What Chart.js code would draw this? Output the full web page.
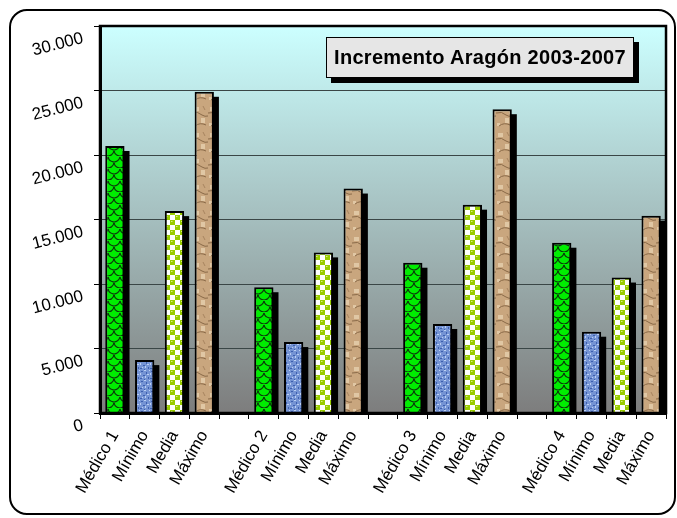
<!DOCTYPE html>
<html><head><meta charset="utf-8">
<script src="https://cdn.jsdelivr.net/npm/chart.js@4.4.1/dist/chart.umd.min.js"></script>
<style>
html,body{margin:0;padding:0;background:#fff;}
#wrap{position:relative;width:677px;height:518px;overflow:hidden;}
#frame{position:absolute;left:9px;top:9px;width:667px;height:506px;border:2px solid #000;border-radius:18px;box-sizing:border-box;pointer-events:none;}
#title{position:absolute;left:326px;top:37px;width:308px;height:41px;box-sizing:border-box;border:1px solid #000;background:#e6e6e6;box-shadow:5px 5px 0 #000;font:bold 20px Arial,'Liberation Sans',sans-serif;letter-spacing:0.3px;display:flex;align-items:center;justify-content:center;color:#000;}
canvas{position:absolute;left:0;top:0;}
</style></head>
<body><div id="wrap"><canvas id="c" width="677" height="518"></canvas><div id="frame"></div><div id="title">Incremento Aragón 2003-2007</div></div>
<script>
const groupLabels = ['Médico 1','Médico 2','Médico 3','Médico 4'];
const statLabels = ['Mínimo','Media','Máximo'];
const medico = [20700, 9750, 11650, 13200];
const minimo = [4100, 5500, 6900, 6300];
const media  = [15650, 12450, 16150, 10500];
const maximo = [24900, 17400, 23550, 15300];
const yTickLabels = ['0','5.000','10.000','15.000','20.000','25.000','30.000'];

const canvas = document.getElementById('c');
const mainCtx = canvas.getContext('2d');
function tile(w,h,draw){const c=document.createElement('canvas');c.width=w;c.height=h;draw(c.getContext('2d'));return mainCtx.createPattern(c,'repeat');}

const patMedico = tile(12,12,x=>{
  x.fillStyle='#00ee00';x.fillRect(0,0,12,12);
  x.strokeStyle='#0b3a0b';x.lineWidth=1.2;
  [[6,0],[0,6],[12,6],[6,12]].forEach(([cx,cy])=>{x.beginPath();x.arc(cx,cy,6,0.15,Math.PI-0.15);x.stroke();});
});
const patMinimo = tile(10,10,x=>{
  x.fillStyle='#7594d4';x.fillRect(0,0,10,10);
  x.fillStyle='#3d5fae';[[1,1,2,1],[6,2,1,2],[3,5,2,1],[8,7,1,2],[0,8,2,1],[4,9,1,1]].forEach(r=>x.fillRect(...r));
  x.fillStyle='#bcd0f3';[[4,0,2,1],[0,3,1,2],[7,4,2,1],[2,7,1,1],[5,6,1,2],[9,0,1,1]].forEach(r=>x.fillRect(...r));
});
const patMedia = tile(10,10,x=>{
  x.fillStyle='#99cc00';x.fillRect(0,0,10,10);
  x.fillStyle='#ffffff';x.fillRect(5,0,5,5);x.fillRect(0,5,5,5);
  x.fillStyle='#99cc00';
  [[2.5,2.5],[7.5,7.5]].forEach(([cx,cy])=>{x.beginPath();x.arc(cx,cy,2.3,0,Math.PI*2);x.fill();});
  x.fillStyle='#d6ee88';
  [[2,2],[7,7]].forEach(([cx,cy])=>{x.fillRect(cx-1,cy-1,1.5,1);});
});
const patMaximo = tile(16,26,x=>{
  x.fillStyle='#c9a67e';x.fillRect(0,0,16,26);
  x.fillStyle='#e0c7a4';x.fillRect(2,3,5,4);x.fillRect(9,14,4,5);x.fillRect(1,19,3,3);
  x.strokeStyle='#8a6a48';x.lineWidth=1;
  x.beginPath();x.moveTo(0,9);x.quadraticCurveTo(6,7,10,11);x.quadraticCurveTo(13,13,16,12);x.stroke();
  x.beginPath();x.moveTo(3,22);x.quadraticCurveTo(8,18,14,21);x.stroke();
  x.strokeStyle='#a88560';
  x.beginPath();x.moveTo(11,2);x.lineTo(13,6);x.stroke();
});

const labels = [], values = [], fills = [];
groupLabels.forEach((g,i)=>{
  labels.push(g, statLabels[0], statLabels[1], statLabels[2]);
  values.push(medico[i], minimo[i], media[i], maximo[i]);
  fills.push(patMedico, patMinimo, patMedia, patMaximo);
  if(i<groupLabels.length-1){labels.push('');values.push(null);fills.push('rgba(0,0,0,0)');}
});

const bgPlugin = {id:'bg', beforeDraw(chart){
  const {ctx, chartArea:a} = chart;
  const g = ctx.createLinearGradient(0,a.top,0,a.bottom);
  g.addColorStop(0,'#ccffff'); g.addColorStop(1,'#7d7d7d');
  ctx.save(); ctx.fillStyle=g; ctx.fillRect(a.left,a.top,a.right-a.left,a.bottom-a.top); ctx.restore();
}};
const shadowPlugin = {id:'shadow', beforeDatasetsDraw(chart){
  const {ctx, chartArea:a} = chart;
  ctx.save(); ctx.beginPath(); ctx.rect(a.left,a.top,a.right-a.left,a.bottom-a.top); ctx.clip();
  ctx.fillStyle='#000';
  chart.getDatasetMeta(0).data.forEach((el,i)=>{
    if(values[i]==null) return;
    const p = el.getProps(['x','y','base','width'],true);
    ctx.fillRect(p.x-p.width/2+5, p.y+5, p.width, p.base-p.y);
  });
  ctx.restore();
}};
const framePlugin = {id:'frame', afterDatasetsDraw(chart){
  const {ctx, chartArea:a} = chart;
  ctx.save(); ctx.strokeStyle='#000'; ctx.lineWidth=2.5;
  ctx.strokeRect(a.left,a.top,a.right-a.left,a.bottom-a.top); ctx.restore();
}};
const yLabelPlugin = {id:'ylab', afterDraw(chart){
  const {ctx} = chart; const s = chart.scales.y;
  ctx.save(); ctx.fillStyle='#000'; ctx.font='17px Arial, "Liberation Sans", sans-serif';
  ctx.textAlign='right'; ctx.textBaseline='middle';
  s.ticks.forEach((t,i)=>{
    const y = s.getPixelForValue(t.value);
    ctx.save(); ctx.translate(s.right-17, y+12); ctx.rotate(-14.5*Math.PI/180);
    ctx.fillText(yTickLabels[i], 0, 0); ctx.restore();
  });
  ctx.restore();
}};

new Chart(canvas, {
  type:'bar',
  data:{labels:labels, datasets:[{data:values, backgroundColor:fills, borderColor:'#000', borderWidth:2, barPercentage:0.9, categoryPercentage:0.72}]},
  options:{
    responsive:false, animation:false,
    layout:{padding:{top:26,right:8,left:0,bottom:0}},
    plugins:{legend:{display:false}, tooltip:{enabled:false}, title:{display:false}},
    scales:{
      x:{
        grid:{display:true, drawOnChartArea:false, drawTicks:true, tickLength:6, color:'#000', lineWidth:1, offset:true},
        border:{display:true, color:'#000', width:3},
        ticks:{autoSkip:false, minRotation:60, maxRotation:60, color:'#000', padding:8, font:{family:'Arial, "Liberation Sans", sans-serif', size:17}},
        afterFit(s){s.height=105;}
      },
      y:{
        min:0, max:30000,
        ticks:{stepSize:5000, color:'rgba(0,0,0,0)', font:{family:'Arial', size:16}, callback:(v,i)=>yTickLabels[i]},
        grid:{color:'#3a4646', lineWidth:1, tickLength:6, drawTicks:true, tickColor:'#000'},
        border:{display:true, color:'#000', width:3},
        afterFit(s){s.width=100;}
      }
    }
  },
  plugins:[bgPlugin, shadowPlugin, framePlugin, yLabelPlugin]
});
</script>
</body></html>
